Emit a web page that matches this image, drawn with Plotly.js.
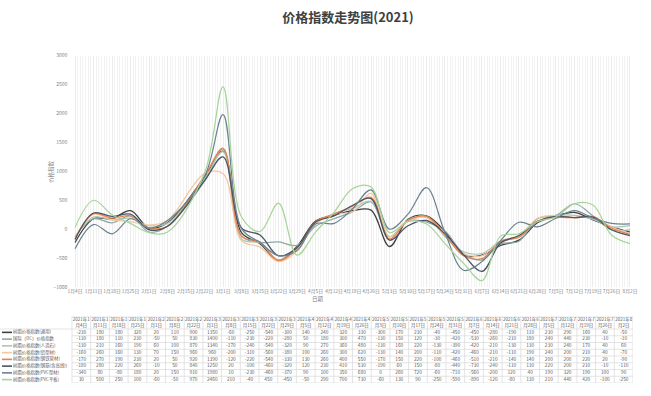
<!DOCTYPE html>
<html>
<head>
<meta charset="utf-8">
<script src="https://cdn.plot.ly/plotly-3.0.1.min.js"></script>
<style>html,body{margin:0;padding:0;background:#fff}#chart{width:651px;height:396px}</style>
</head>
<body>
<div id="chart"></div>
<script>
// ---- data ----
const dates = ['2021-01-04','2021-01-11','2021-01-18','2021-01-25','2021-02-01','2021-02-08','2021-02-22','2021-03-01','2021-03-08','2021-03-15','2021-03-22','2021-03-29','2021-04-05','2021-04-12','2021-04-19','2021-04-26','2021-05-03','2021-05-10','2021-05-17','2021-05-24','2021-05-31','2021-06-07','2021-06-14','2021-06-21','2021-06-28','2021-07-05','2021-07-12','2021-07-19','2021-07-26','2021-08-02'];
const headerLabels = ['2021年1月4日','2021年1月11日','2021年1月18日','2021年1月25日','2021年2月1日','2021年2月8日','2021年2月22日','2021年3月1日','2021年3月8日','2021年3月15日','2021年3月22日','2021年3月29日','2021年4月5日','2021年4月12日','2021年4月19日','2021年4月26日','2021年5月3日','2021年5月10日','2021年5月17日','2021年5月24日','2021年5月31日','2021年6月7日','2021年6月14日','2021年6月21日','2021年6月28日','2021年7月5日','2021年7月12日','2021年7月19日','2021年7月26日','2021年8月2日'];
const seriesNames = ['树脂价格指数(通用)','国际（DC）价格指数','树脂价格指数(人造石)','树脂价格指数(铝型材)','树脂价格指数(钢铁管材)','树脂价格指数(钢筋(含高线))','树脂价格指数(PVC型材)','树脂价格指数(PVC平板)'];
const s1 = [-230,180,180,320,20,110,900,1350,-60,-250,-540,-300,140,240,320,330,-300,170,230,-40,-450,-450,-280,-190,110,230,290,160,40,-50];
const s2 = [-130,180,110,230,-50,50,830,1400,-110,-230,-220,-280,50,180,300,470,-130,150,120,-30,-420,-530,-260,-210,180,240,440,230,-10,-10];
const s3 = [-130,210,160,190,60,100,870,1340,-170,-240,-540,-320,90,270,360,480,-130,160,220,-130,-390,-420,-210,-130,130,230,240,170,40,60];
const s4 = [-160,260,160,130,70,150,960,960,-200,-310,-560,-380,100,260,300,620,-130,140,200,-110,-420,-460,-210,-110,190,240,200,210,40,-70];
const s5 = [-170,270,190,230,20,50,920,1390,-120,-220,-540,-330,130,260,400,550,-170,150,220,-100,-460,-510,-210,-140,140,200,200,220,20,-90];
const s6 = [-180,280,220,260,-10,50,840,1250,20,-100,-460,-320,120,230,410,530,-190,60,150,-80,-440,-730,-240,-110,130,220,200,210,-10,-110];
const s7 = [-340,80,-80,180,20,150,910,1980,10,-230,-460,-370,90,100,350,680,0,260,720,-60,-710,-560,-200,120,40,190,320,190,100,90];
const s8 = [30,500,250,100,-60,-50,970,2460,210,-40,450,-450,-50,290,700,730,-60,130,90,-250,-590,-890,-120,-80,130,210,440,420,-100,-250];
const allSeries = [s1,s2,s3,s4,s5,s6,s7,s8];

// ---- styles ----
const colors = ['#3f3f3f','#8fa9a6','#a9c7b5','#f4c7a1','#e8834f','#4b5563','#6b8290','#a8d49a'];
const widths = [1.3,1.2,1.2,1.2,1.3,1.3,1.2,1.2];
const W = 651, H = 396;
const FONT = 'Noto Sans CJK SC, Noto Sans, sans-serif';
const TXT = '#595959';

const traces = allSeries.map((s, i) => ({
  type: 'scatter', mode: 'lines', x: dates, y: s, name: seriesNames[i],
  line: {color: colors[i], width: widths[i], shape: 'spline', smoothing: 1},
  showlegend: false, hoverinfo: 'skip', xaxis: 'x', yaxis: 'y'
}));

// ---- data table drawn on its own axes (x2: column units, y2: row units) ----
const tblTop = 316, tblBot = 383, hdrPx = 13, colPx = 18.7, legPx = 72;
const nRows = allSeries.length, nCols = dates.length;
const rowPx = (tblBot - tblTop - hdrPx) / nRows;
const hdrU = hdrPx / rowPx;          // header height in row units
const legU = legPx / colPx;          // legend column width in column units

// header texts
traces.push({
  type: 'scatter', mode: 'text', xaxis: 'x2', yaxis: 'y2', hoverinfo: 'skip', showlegend: false,
  x: headerLabels.map((l, j) => j + 0.5), y: headerLabels.map(() => -hdrU / 2),
  text: headerLabels.map(l => l.replace(/^(\d+年\d+)/, '$1<br>')),
  textposition: 'middle center', textfont: {family: FONT, size: 4.5, color: TXT}
});
// cell values
const cx = [], cy = [], ct = [];
allSeries.forEach((s, i) => s.forEach((v, j) => { cx.push(j + 0.5); cy.push(i + 0.5); ct.push(String(v)); }));
traces.push({
  type: 'scatter', mode: 'text', xaxis: 'x2', yaxis: 'y2', hoverinfo: 'skip', showlegend: false,
  x: cx, y: cy, text: ct, textposition: 'middle center', textfont: {family: FONT, size: 4.8, color: TXT}
});
// series names
traces.push({
  type: 'scatter', mode: 'text', xaxis: 'x2', yaxis: 'y2', hoverinfo: 'skip', showlegend: false,
  x: seriesNames.map(() => -legU + 13 / colPx), y: seriesNames.map((n, i) => i + 0.5),
  text: seriesNames, textposition: 'middle right', textfont: {family: FONT, size: 4.4, color: TXT}
});

// borders & legend keys
const shapes = [];
const bc = '#d9d9d9';
for (let j = 0; j <= nCols; j++) {
  shapes.push({type: 'line', xref: 'x2', yref: 'y2', x0: j, x1: j, y0: -hdrU, y1: nRows, line: {color: bc, width: 0.7}});
}
shapes.push({type: 'line', xref: 'x2', yref: 'y2', x0: 0, x1: nCols, y0: -hdrU, y1: -hdrU, line: {color: bc, width: 0.7}});
for (let i = 0; i <= nRows; i++) {
  shapes.push({type: 'line', xref: 'x2', yref: 'y2', x0: i === 0 ? -legU : 0, x1: nCols, y0: i, y1: i, line: {color: bc, width: 0.7}});
}
allSeries.forEach((s, i) => {
  shapes.push({type: 'line', xref: 'x2', yref: 'y2', x0: -legU + 2 / colPx, x1: -legU + 12 / colPx, y0: i + 0.5, y1: i + 0.5,
    line: {color: colors[i], width: 1.6}});
});

const layout = {
  width: W, height: H,
  margin: {l: 0, r: 0, t: 0, b: 0},
  paper_bgcolor: '#ffffff', plot_bgcolor: 'rgba(0,0,0,0)',
  showlegend: false,
  title: {text: '价格指数走势图(2021)', x: 348 / W, xanchor: 'center', y: 1 - 17 / H, yanchor: 'middle',
    font: {family: FONT, size: 13, color: '#404040', weight: 'bold'}},
  xaxis: {
    type: 'date', domain: [72.4 / W, 632.6 / W], range: ['2021-01-03', '2021-08-03'],
    tick0: '2021-01-04', dtick: 7 * 86400000, tickformat: '%-m月%-d日', tickangle: 0,
    tickfont: {family: FONT, size: 4.8, color: '#7f7f7f'},
    showgrid: true, gridcolor: '#e6e6e6', gridwidth: 0.8,
    minor: {dtick: 86400000, showgrid: true, gridcolor: '#efefef', gridwidth: 0.8},
    showline: false, zeroline: false, ticks: '', fixedrange: true, automargin: false
  },
  yaxis: {
    domain: [1 - 287 / H, 1 - 55.7 / H], range: [-1000, 3000], dtick: 500,
    tickfont: {family: FONT, size: 5, color: '#7f7f7f'}, ticklabelstandoff: 4,
    showgrid: false, zeroline: false, showline: false, ticks: '', fixedrange: true, automargin: false
  },
  xaxis2: {
    domain: [0, (legPx + nCols * colPx) / W], range: [-legU, nCols], anchor: 'y2',
    visible: false, fixedrange: true
  },
  yaxis2: {
    domain: [1 - tblBot / H, 1 - tblTop / H], range: [nRows, -hdrU], anchor: 'x2',
    visible: false, fixedrange: true
  },
  annotations: [
    {text: '价格指数', xref: 'paper', yref: 'paper', x: 45 / W, y: 1 - 172 / H, textangle: -90,
     showarrow: false, font: {family: FONT, size: 5.5, color: '#7f7f7f'}},
    {text: '日期', xref: 'paper', yref: 'paper', x: 318 / W, y: 1 - 305 / H,
     showarrow: false, font: {family: FONT, size: 5.5, color: '#7f7f7f'}}
  ],
  shapes: shapes
};

Plotly.newPlot('chart', traces, layout, {staticPlot: true, displayModeBar: false});
</script>
</body>
</html>
